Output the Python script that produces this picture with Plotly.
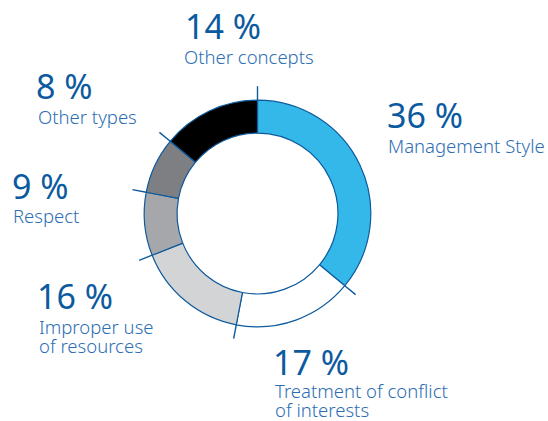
import math
import plotly.graph_objects as go

categories = ["Management Style", "Treatment of conflict of interests", "Improper use of resources",
              "Respect", "Other types", "Other concepts"]
label_lines = [["Management Style"], ["Treatment of conflict", "of interests"], ["Improper use", "of resources"],
               ["Respect"], ["Other types"], ["Other concepts"]]
values = [36, 17, 16, 9, 8, 14]
pct_labels = ["36 %", "17 %", "16 %", "9 %", "8 %", "14 %"]
colors = ["#33b8e9", "#ffffff", "#d3d4d6", "#a6a7aa", "#7e7f83", "#000000"]

W, H = 548, 421
CX, CY, R = 257.5, 213.5, 113.3
TICK = 14
LINE = "#0e5a9d"
PCT_COLOR = "#0b5aa0"
LAB_COLOR = "#2d6eb3"
LINE_GAP = 19

# (percentage left x, percentage centre y, label left x, first label line centre y) in pixels
label_pos = [
    (385, 114.5, 386, 145),
    (271, 361.5, 272.5, 390.8),
    (35.3, 296, 36.5, 326.5),
    (9.7, 185.5, 11, 215.3),
    (34, 85.8, 36, 116.7),
    (183, 26, 182, 56.5),
]

fig = go.Figure()
fig.add_trace(go.Pie(
    labels=categories, values=values, sort=False, direction="clockwise", rotation=0,
    hole=0.71, textinfo="none", hoverinfo="label+percent",
    marker=dict(colors=colors, line=dict(color=LINE, width=1.2)),
    domain=dict(x=[(CX - R) / W, (CX + R) / W], y=[1 - (CY + R) / H, 1 - (CY - R) / H]),
    showlegend=False,
))

# boundary ticks
total = sum(values)
cum = 0
shapes = []
for v in values:
    th = 2 * math.pi * cum / total
    x0 = CX + R * math.sin(th)
    y0 = CY - R * math.cos(th)
    x1 = CX + (R + TICK) * math.sin(th)
    y1 = CY - (R + TICK) * math.cos(th)
    shapes.append(dict(type="line", xref="paper", yref="paper",
                       x0=x0 / W, y0=1 - y0 / H, x1=x1 / W, y1=1 - y1 / H,
                       line=dict(color=LINE, width=1.4)))
    cum += v

annotations = []
for (px, py, lx, ly), p, lines in zip(label_pos, pct_labels, label_lines):
    annotations.append(dict(text=p, x=px / W, y=1 - py / H, xref="paper", yref="paper",
                            xanchor="left", yanchor="middle", showarrow=False, align="left",
                            font=dict(family="Noto Sans", size=34, color=PCT_COLOR)))
    for i, line in enumerate(lines):
        annotations.append(dict(text=line, x=lx / W, y=1 - (ly + i * LINE_GAP) / H,
                                xref="paper", yref="paper",
                                xanchor="left", yanchor="middle", showarrow=False, align="left",
                                font=dict(family="Noto Sans", size=18.5, color=LAB_COLOR, weight=300)))

fig.update_layout(width=W, height=H, margin=dict(l=0, r=0, t=0, b=0),
                  paper_bgcolor="white", plot_bgcolor="white",
                  shapes=shapes, annotations=annotations)
fig.write_html("out.html", config={"displayModeBar": False},
               post_script="document.body.style.margin='0';")
